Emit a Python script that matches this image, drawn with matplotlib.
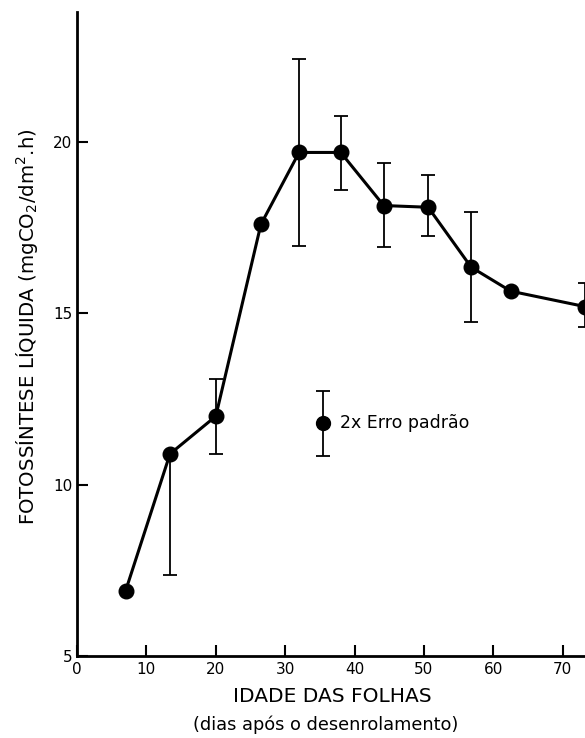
import matplotlib
matplotlib.use("Agg")
import matplotlib.pyplot as plt

# Data
days = [7, 13.4, 20, 26.5, 32, 38, 44.2, 50.6, 56.8, 62.5, 73.2]
photo = [6.9, 10.9, 12.0, 17.6, 19.7, 19.7, 18.15, 18.1, 16.35, 15.65, 15.2]
err_low = [0, 3.55, 1.1, 0, 2.74, 1.1, 1.22, 0.85, 1.6, 0, 0.6]
err_high = [0, 0, 1.1, 0, 2.74, 1.05, 1.25, 0.95, 1.6, 0, 0.7]

legend_x = [35.4]
legend_y = [11.8]
legend_err = [0.95]

x_ticks = [0, 10, 20, 30, 40, 50, 60, 70]
y_ticks = [5, 10, 15, 20]

plt.rcParams['font.family'] = ['DejaVu Sans']

fig = plt.figure(figsize=(5.85, 7.38), dpi=100)
ax = fig.add_axes([77/585, 1-656/738, 1-77/585, (656-12)/738])

ax.errorbar(days, photo, yerr=[err_low, err_high], fmt='none', ecolor='black',
            elinewidth=1.3, capsize=5, capthick=1.3, clip_on=True)
ax.plot(days, photo, color='black', lw=2.2, marker='o', markersize=10.5,
        markerfacecolor='black', markeredgecolor='black', clip_on=True, zorder=3)

# legend symbol
ax.errorbar(legend_x, legend_y, yerr=legend_err, fmt='o', color='black',
            markersize=10, elinewidth=1.3, capsize=5, capthick=1.3)
ax.text(legend_x[0] + 2.5, legend_y[0], '2x Erro padrão', fontsize=12.5,
        va='center', ha='left')

ax.set_xlim(0, 73.2)
ax.set_ylim(5, 23.8)
ax.set_xticks(x_ticks)
ax.set_yticks(y_ticks)
ax.tick_params(direction='in', length=8, width=1.5, labelsize=11)
ax.tick_params(axis='x', pad=4)
for s in ['top', 'right']:
    ax.spines[s].set_visible(False)
for s in ['left', 'bottom']:
    ax.spines[s].set_linewidth(2)

fig.text(27/585, 1-327/738, 'FOTOSSÍNTESE LÍQUIDA (mgCO$_2$/dm$^2$.h)', rotation=90,
         ha='center', va='center', fontsize=14.2)

fig.text(332/585, 1-697/738, 'IDADE DAS FOLHAS', ha='center', va='center', fontsize=14.5)
fig.text(326/585, 1-725/738, '(dias após o desenrolamento)', ha='center', va='center', fontsize=12.8)

fig.savefig('out.png', dpi=100)
